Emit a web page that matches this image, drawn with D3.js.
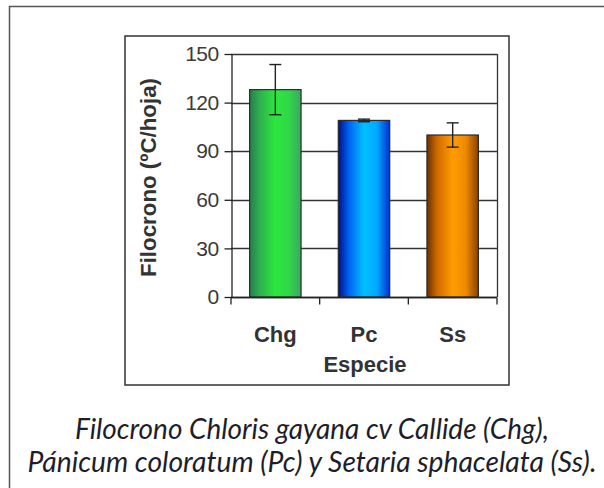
<!DOCTYPE html>
<html>
<head>
<meta charset="utf-8">
<script src="https://cdn.jsdelivr.net/npm/d3@7"></script>
<style>
  body { margin: 0; background: #fff; }
  svg { display: block; }
</style>
</head>
<body>
<div id="chart"></div>
<script>
// data
var especies = ['Chg', 'Pc', 'Ss'];
var filocrono = [128, 109, 100];
var error_est = [15.5, 0.8, 7.5];
var y_ticks = [0, 30, 60, 90, 120, 150];
var caption = [
	'Filocrono Chloris gayana cv Callide (Chg),',
	'Pánicum coloratum (Pc) y Setaria sphacelata (Ss).'
];

var width = 604;
var height = 488;
var plot = { left: 231, right: 497, top: 54, bottom: 297 };
var font = '"Liberation Sans", Arial, sans-serif';

var svg = d3.select('#chart')
	.append('svg')
	.attr('width', width)
	.attr('height', height);

var defs = svg.append('defs');

// cylinder-like gradients like the Excel bars
var grads = [
	['g_chg', ['#23804a', '#2fb050', '#2ae83c', '#30d848', '#3aa862']],
	['g_pc', ['#00108a', '#0060f0', '#00c0ff', '#00a8ff', '#0030d0']],
	['g_ss', ['#6a3000', '#d06a00', '#ff9c00', '#f08a00', '#8a4000']]
];
grads.forEach(function (g) {
	var lg = defs.append('linearGradient')
		.attr('id', g[0])
		.attr('x1', '0%').attr('x2', '100%')
		.attr('y1', '0%').attr('y2', '0%');
	[0, 0.2, 0.5, 0.75, 1].forEach(function (o, i) {
		lg.append('stop').attr('offset', o).attr('stop-color', g[1][i]);
	});
});

defs.append('filter').attr('id', 'blur')
	.append('feGaussianBlur').attr('stdDeviation', 1.2);

// outer picture border (left and top only visible)
svg.append('path')
	.attr('d', 'M9.5,' + (height + 2) + 'V6.5H' + (width + 2))
	.attr('fill', 'none')
	.attr('stroke', '#555')
	.attr('stroke-width', 1.5);

// chart frame with soft shadow under it
svg.append('line')
	.attr('x1', 130).attr('x2', 512)
	.attr('y1', 389).attr('y2', 389)
	.attr('stroke', '#aaa')
	.attr('stroke-width', 2)
	.attr('filter', 'url(#blur)');
svg.append('rect')
	.attr('x', 125).attr('y', 36)
	.attr('width', 384).attr('height', 349)
	.attr('fill', '#fff')
	.attr('stroke', '#333')
	.attr('stroke-width', 1.5);

// Create scales
var x_scale = d3.scaleBand()
	.domain(especies)
	.range([plot.left, plot.right])
	.paddingInner(0.42)
	.paddingOuter(0.21);
var y_scale = d3.scaleLinear()
	.domain([0, 150])
	.range([plot.bottom, plot.top]);

// gridlines
svg.append('g')
	.selectAll('line')
	.data(y_ticks)
	.enter()
	.append('line')
	.attr('x1', plot.left)
	.attr('x2', plot.right)
	.attr('y1', function (d) { return Math.round(y_scale(d)) + 0.5; })
	.attr('y2', function (d) { return Math.round(y_scale(d)) + 0.5; })
	.attr('stroke', '#333')
	.attr('stroke-width', 1.3);

// right border of plot area
svg.append('line')
	.attr('x1', plot.right + 0.5).attr('x2', plot.right + 0.5)
	.attr('y1', y_scale(150)).attr('y2', y_scale(0))
	.attr('stroke', '#333')
	.attr('stroke-width', 1.3);

// bars
svg.selectAll('rect.bar')
	.data(especies)
	.enter()
	.append('rect')
	.attr('class', 'bar')
	.attr('x', function (d) { return x_scale(d); })
	.attr('y', function (d, i) { return y_scale(filocrono[i]); })
	.attr('width', x_scale.bandwidth())
	.attr('height', function (d, i) { return y_scale(0) - y_scale(filocrono[i]); })
	.attr('fill', function (d, i) { return 'url(#' + grads[i][0] + ')'; })
	.attr('stroke', '#2a2a2a')
	.attr('stroke-width', 1.2);

// error bars
var err = svg.append('g')
	.selectAll('g')
	.data(especies)
	.enter()
	.append('g')
	.attr('stroke', '#222')
	.attr('stroke-width', 1.4);
err.append('line')
	.attr('x1', function (d) { return x_scale(d) + x_scale.bandwidth() / 2; })
	.attr('x2', function (d) { return x_scale(d) + x_scale.bandwidth() / 2; })
	.attr('y1', function (d, i) { return y_scale(filocrono[i] + error_est[i]); })
	.attr('y2', function (d, i) { return y_scale(filocrono[i] - error_est[i]); });
[1, -1].forEach(function (s) {
	err.append('line')
		.attr('x1', function (d) { return x_scale(d) + x_scale.bandwidth() / 2 - 6; })
		.attr('x2', function (d) { return x_scale(d) + x_scale.bandwidth() / 2 + 6; })
		.attr('y1', function (d, i) { return y_scale(filocrono[i] + s * error_est[i]); })
		.attr('y2', function (d, i) { return y_scale(filocrono[i] + s * error_est[i]); });
});

// y axis
var y_axis = svg.append('g')
	.attr('transform', 'translate(' + (plot.left + 0.5) + ',0)')
	.call(d3.axisLeft(y_scale).tickValues(y_ticks).tickSize(7).tickSizeOuter(0).tickPadding(6));
y_axis.selectAll('line, path').attr('stroke', '#222').attr('stroke-width', 1.3);
y_axis.selectAll('text')
	.attr('font-family', font)
	.attr('font-size', 21)
	.attr('letter-spacing', -0.6)
	.attr('fill', '#3a3a3a');

// x axis: ticks sit on the band edges
var x_axis = svg.append('g')
	.attr('transform', 'translate(0,' + (Math.round(y_scale(0)) + 0.5) + ')');
x_axis.append('line')
	.attr('x1', plot.left).attr('x2', plot.right)
	.attr('stroke', '#222').attr('stroke-width', 1.3);
var edges = especies.map(function (d) { return x_scale(d) - x_scale.step() * x_scale.paddingInner() / 2; });
edges.push(plot.right);
x_axis.selectAll('line.tick')
	.data(edges)
	.enter()
	.append('line')
	.attr('class', 'tick')
	.attr('x1', function (d) { return d; })
	.attr('x2', function (d) { return d; })
	.attr('y1', 0).attr('y2', 7)
	.attr('stroke', '#222').attr('stroke-width', 1.3);
x_axis.selectAll('text')
	.data(especies)
	.enter()
	.append('text')
	.text(function (d) { return d; })
	.attr('x', function (d) { return x_scale(d) + x_scale.bandwidth() / 2; })
	.attr('y', 44)
	.attr('text-anchor', 'middle')
	.attr('font-family', font)
	.attr('font-weight', 'bold')
	.attr('font-size', 22)
	.attr('fill', '#333');

// axis titles
svg.append('text')
	.text('Especie')
	.attr('x', (plot.left + plot.right) / 2 + 1)
	.attr('y', 372)
	.attr('text-anchor', 'middle')
	.attr('font-family', font)
	.attr('font-weight', 'bold')
	.attr('font-size', 22)
	.attr('fill', '#333');
svg.append('text')
	.text('Filocrono (ºC/hoja)')
	.attr('transform', 'translate(156,' + ((plot.top + plot.bottom) / 2 + 2) + ') rotate(-90)')
	.attr('text-anchor', 'middle')
	.attr('font-family', font)
	.attr('font-weight', 'bold')
	.attr('font-size', 22)
	.attr('textLength', 199)
	.attr('lengthAdjust', 'spacingAndGlyphs')
	.attr('fill', '#333');

// caption below the figure
var cap_width = [474, 569];
svg.selectAll('text.caption')
	.data(caption)
	.enter()
	.append('text')
	.attr('class', 'caption')
	.text(function (d) { return d; })
	.attr('x', function (d, i) { return 312 - cap_width[i] / 2; })
	.attr('y', function (d, i) { return 439 + i * 33; })
	.attr('textLength', function (d, i) { return cap_width[i]; })
	.attr('lengthAdjust', 'spacingAndGlyphs')
	.attr('font-family', 'Lato, "Open Sans", sans-serif')
	.attr('font-style', 'italic')
	.attr('font-size', 28)
	.attr('fill', '#1e1e2a');
</script>
</body>
</html>
